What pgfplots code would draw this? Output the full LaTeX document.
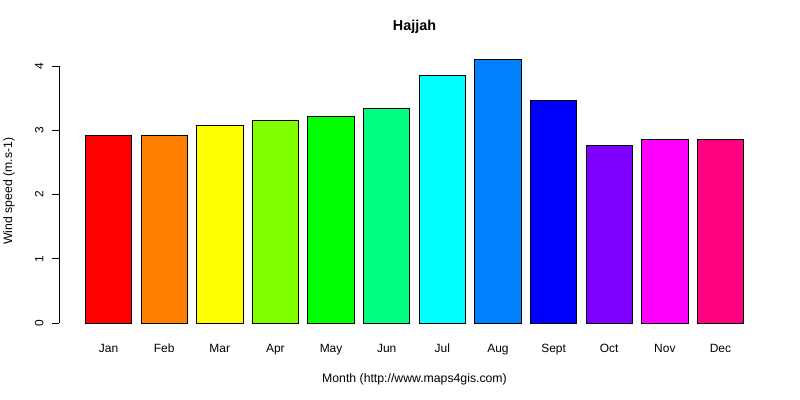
\documentclass[border=0pt]{standalone}
\usepackage{pgfplots}
\pgfplotsset{compat=1.18}
\usepackage{fontspec}
\setmainfont{Liberation Sans}

% R rainbow(12)
\definecolor{c1}{HTML}{FF0000}
\definecolor{c2}{HTML}{FF8000}
\definecolor{c3}{HTML}{FFFF00}
\definecolor{c4}{HTML}{80FF00}
\definecolor{c5}{HTML}{00FF00}
\definecolor{c6}{HTML}{00FF80}
\definecolor{c7}{HTML}{00FFFF}
\definecolor{c8}{HTML}{0080FF}
\definecolor{c9}{HTML}{0000FF}
\definecolor{c10}{HTML}{8000FF}
\definecolor{c11}{HTML}{FF00FF}
\definecolor{c12}{HTML}{FF0080}

\begin{document}
\begin{tikzpicture}
  \useasboundingbox (0,0) rectangle (800bp,400bp);
  \begin{axis}[
      at={(59bp,66.5bp)}, anchor=south west,
      scale only axis,
      width=711bp, height=284.5bp,
      xmin=-0.89, xmax=11.89,
      ymin=-0.164, ymax=4.264,
      ybar, bar width=0.8333, bar shift=0pt,
      axis line style={draw=none},
      xtick={0,...,11},
      xticklabels={Jan,Feb,Mar,Apr,May,Jun,Jul,Aug,Sept,Oct,Nov,Dec},
      xtick style={draw=none},
      ytick={0,1,2,3,4},
      ytick pos=left,
      tick align=outside,
      major tick length=7bp,
      ytick style={line width=0.8bp, black},
      tick label style={font=\fontsize{12}{14}\selectfont},
      /pgf/number format/assume math mode=true,
      yticklabel style={rotate=90, anchor=south, yshift=5bp},
      xticklabel style={anchor=base, yshift=-12bp},
      title={Hajjah},
      title style={at={(0.5,1)}, anchor=base, yshift=13bp,
                   font=\bfseries\fontsize{14.4}{16}\selectfont},
      xlabel={Month (http://www.maps4gis.com)},
      xlabel style={at={(axis description cs:0.5,0)}, anchor=base,
                    yshift=-48.5bp, font=\fontsize{12.3}{14}\selectfont},
      ylabel={Wind speed (m.s-1)},
      ylabel style={at={(axis description cs:0,0.5)}, anchor=center,
                    yshift=50bp, font=\fontsize{12.3}{14}\selectfont},
      every axis plot/.append style={draw=black, line width=0.8bp},
    ]
    \addplot[fill=c1]  coordinates {(0,2.92)};
    \addplot[fill=c2]  coordinates {(1,2.92)};
    \addplot[fill=c3]  coordinates {(2,3.08)};
    \addplot[fill=c4]  coordinates {(3,3.15)};
    \addplot[fill=c5]  coordinates {(4,3.22)};
    \addplot[fill=c6]  coordinates {(5,3.34)};
    \addplot[fill=c7]  coordinates {(6,3.86)};
    \addplot[fill=c8]  coordinates {(7,4.10)};
    \addplot[fill=c9]  coordinates {(8,3.47)};
    \addplot[fill=c10] coordinates {(9,2.77)};
    \addplot[fill=c11] coordinates {(10,2.85)};
    \addplot[fill=c12] coordinates {(11,2.86)};
    \draw[line width=0.8bp] (axis cs:-0.89,0) -- (axis cs:-0.89,4);
  \end{axis}
\end{tikzpicture}
\end{document}
